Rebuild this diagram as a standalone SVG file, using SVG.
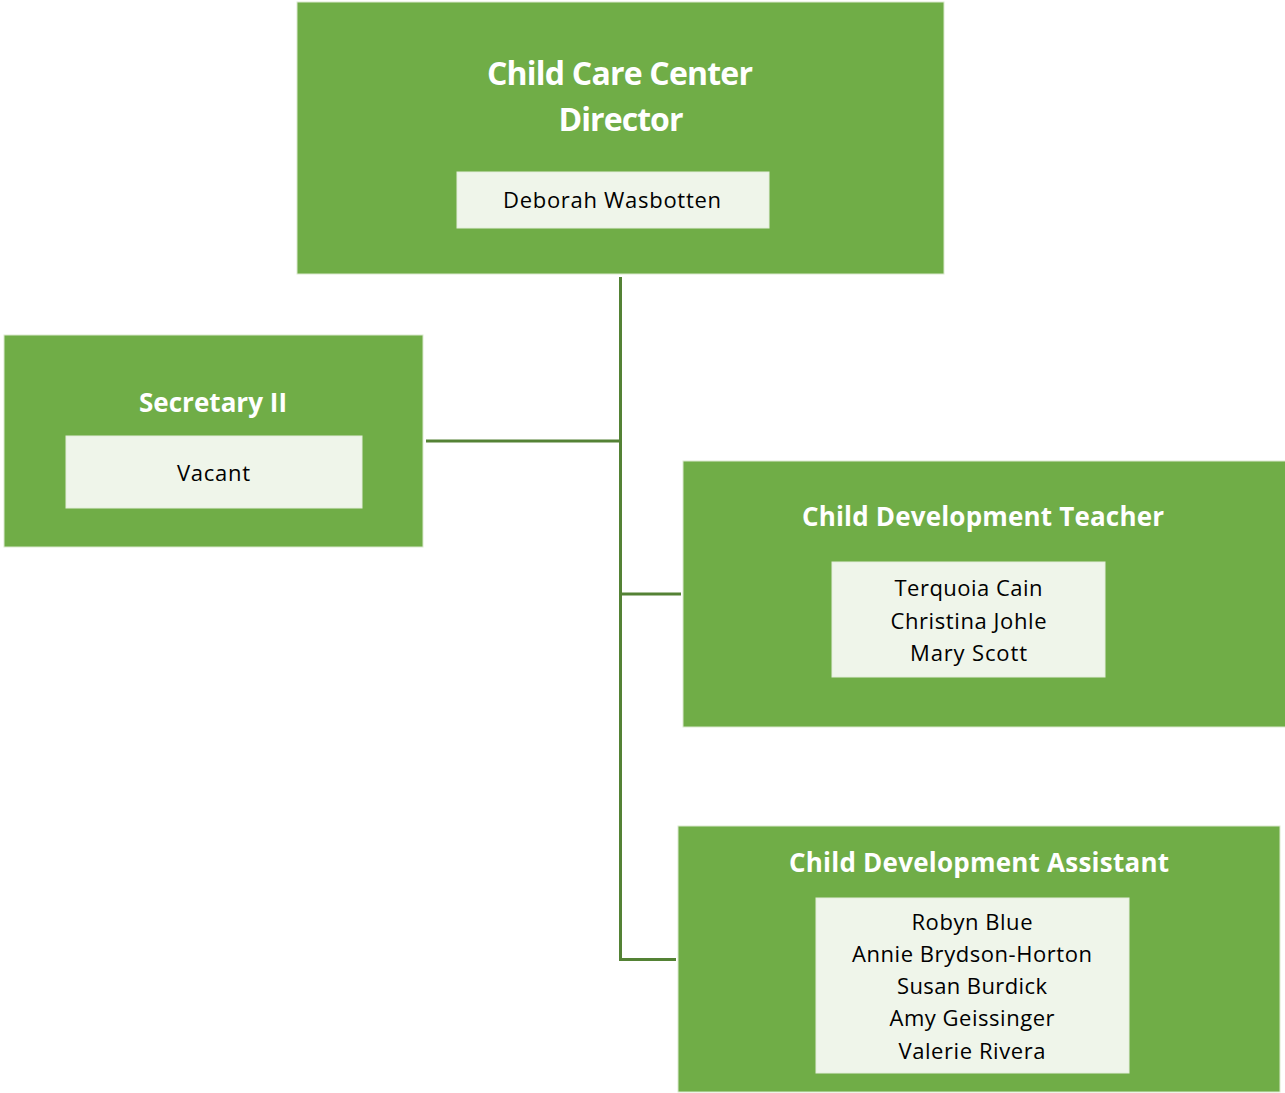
<svg xmlns="http://www.w3.org/2000/svg" width="1285" height="1093" viewBox="0 0 1285 1093">
<style>
.box{fill:#70AD47;stroke:#dbe9cf;stroke-width:1}
.inner{fill:#EFF5EA;stroke:#e3eedb;stroke-width:1}
.title{font-family:"Open Sans","Noto Sans",sans-serif;font-weight:bold;fill:#ffffff;text-anchor:middle}
.name{font-family:"Open Sans","Noto Sans",sans-serif;font-size:22px;fill:#000000;text-anchor:middle}
.conn{fill:none;stroke:#548235;stroke-width:3}
</style>
<rect width="1285" height="1093" fill="#ffffff"/>
<g id="connectors">
<path class="conn" d="M620.5 277 V959.5 H676"/>
<path class="conn" d="M426 441 H620.5"/>
<path class="conn" d="M620.5 594 H681"/>
</g>
<g id="director">
<rect class="box" x="297" y="2" width="647" height="272"/>
<text class="title" x="620" y="85" font-size="32" textLength="266">Child Care Center</text>
<text class="title" x="621" y="131" font-size="32" textLength="125">Director</text>
<rect class="inner" x="457" y="172" width="312" height="56"/>
<text class="name" x="612" y="208" textLength="218">Deborah Wasbotten</text>
</g>
<g id="secretary">
<rect class="box" x="4" y="335" width="419" height="212"/>
<text class="title" x="213" y="412" font-size="26" textLength="148">Secretary II</text>
<rect class="inner" x="66" y="436" width="296" height="72"/>
<text class="name" x="213.5" y="481" textLength="73">Vacant</text>
</g>
<g id="teacher">
<rect class="box" x="683" y="461" width="603" height="266"/>
<text class="title" x="983" y="526" font-size="26" textLength="362">Child Development Teacher</text>
<rect class="inner" x="832" y="562" width="273" height="115"/>
<text class="name" x="968.5" y="596" textLength="148">Terquoia Cain</text>
<text class="name" x="968.5" y="629" textLength="156">Christina Johle</text>
<text class="name" x="968.5" y="661" textLength="117">Mary Scott</text>
</g>
<g id="assistant">
<rect class="box" x="678" y="826" width="602" height="266"/>
<text class="title" x="979" y="872" font-size="26" textLength="380">Child Development Assistant</text>
<rect class="inner" x="816" y="898" width="313" height="175"/>
<text class="name" x="972" y="930" textLength="121">Robyn Blue</text>
<text class="name" x="972" y="962" textLength="240">Annie Brydson-Horton</text>
<text class="name" x="972" y="994" textLength="150">Susan Burdick</text>
<text class="name" x="972" y="1026" textLength="165">Amy Geissinger</text>
<text class="name" x="972" y="1059" textLength="147">Valerie Rivera</text>
</g>
</svg>
